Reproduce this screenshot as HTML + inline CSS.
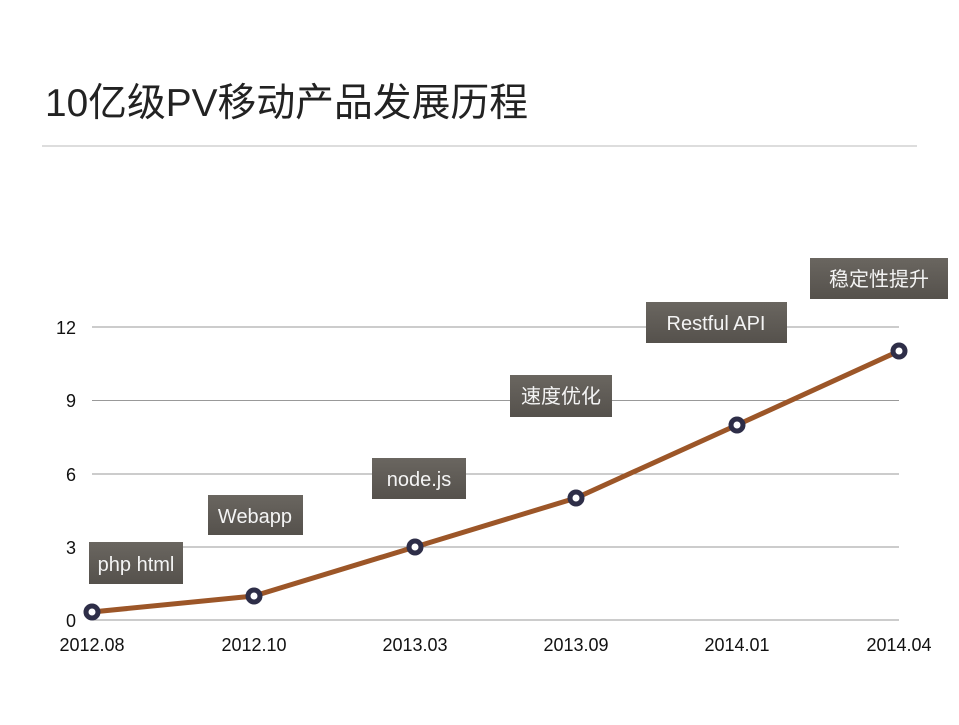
<!DOCTYPE html>
<html><head><meta charset="utf-8"><style>
body{margin:0;background:#fff;}
svg text{font-family:"Liberation Sans","Noto Sans CJK SC",sans-serif;}
</style></head><body>
<svg width="959" height="720" xmlns="http://www.w3.org/2000/svg">
<defs><linearGradient id="g" x1="0" y1="0" x2="0" y2="1"><stop offset="0" stop-color="#6a6660"/><stop offset="1" stop-color="#55514c"/></linearGradient></defs>
<text x="45" y="116" font-size="39" fill="#222" textLength="483" lengthAdjust="spacingAndGlyphs">10亿级PV移动产品发展历程</text>
<line x1="42" y1="146" x2="917" y2="146" stroke="#bbb" stroke-width="1"/>
<g stroke="#999" stroke-width="1">
<line x1="92" y1="327" x2="899" y2="327"/><line x1="92" y1="400.5" x2="899" y2="400.5"/>
<line x1="92" y1="474" x2="899" y2="474"/><line x1="92" y1="547" x2="899" y2="547"/>
<line x1="92" y1="620" x2="899" y2="620"/></g>
<g font-size="18" fill="#111" text-anchor="end">
<text x="76" y="334">12</text><text x="76" y="407">9</text><text x="76" y="481">6</text><text x="76" y="554">3</text><text x="76" y="627">0</text></g>
<g font-size="18" fill="#111" text-anchor="middle">
<text x="92" y="651">2012.08</text><text x="254" y="651">2012.10</text><text x="415" y="651">2013.03</text><text x="576" y="651">2013.09</text><text x="737" y="651">2014.01</text><text x="899" y="651">2014.04</text></g>
<g fill="url(#g)">
<rect x="89" y="542" width="94" height="42"/><rect x="208" y="495" width="95" height="40"/>
<rect x="372" y="458" width="94" height="41"/><rect x="510" y="375" width="102" height="42"/>
<rect x="646" y="302" width="141" height="41"/><rect x="810" y="258" width="138" height="41"/></g>
<g font-size="20" fill="#f4f4f4" text-anchor="middle">
<text x="136" y="571">php html</text><text x="255" y="523">Webapp</text><text x="419" y="486">node.js</text>
<text x="561" y="403">速度优化</text><text x="716" y="330">Restful API</text><text x="879" y="286">稳定性提升</text></g>
<polyline points="92,612 254,596 415,547 576,498 737,425 899,351" fill="none" stroke="#9c5628" stroke-width="5" stroke-linejoin="round"/>
<g fill="#fff" stroke="#2e2e48" stroke-width="5">
<circle cx="92" cy="612" r="6"/><circle cx="254" cy="596" r="6"/><circle cx="415" cy="547" r="6"/>
<circle cx="576" cy="498" r="6"/><circle cx="737" cy="425" r="6"/><circle cx="899" cy="351" r="6"/></g>
</svg>
</body></html>
